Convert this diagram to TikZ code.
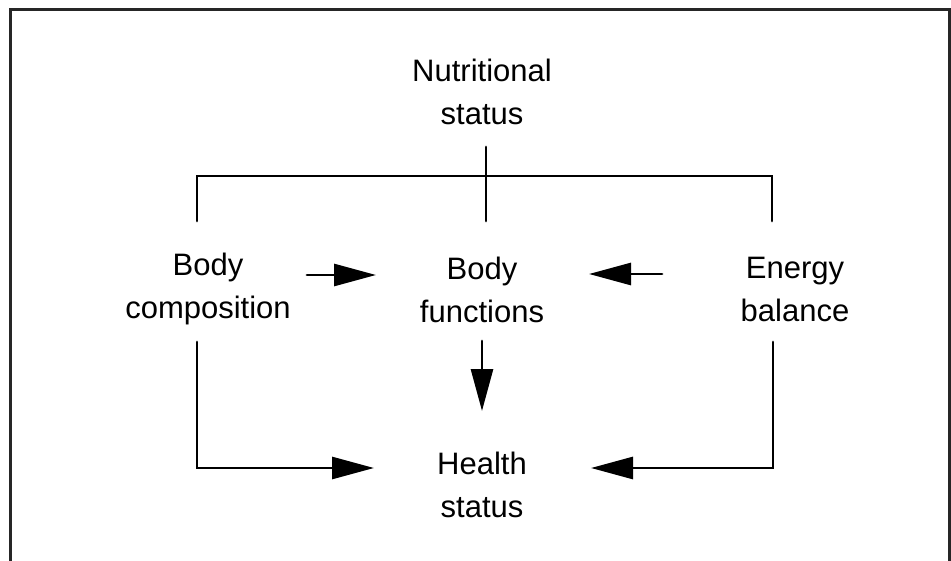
\documentclass[tikz,border=0pt]{standalone}
\usepackage{fontspec}
\setmainfont{Liberation Sans}
\usetikzlibrary{arrows.meta}
\begin{document}
\begin{tikzpicture}[x=1pt,y=-1pt,
  lbl/.style={align=center,inner sep=0pt,font=\fontsize{31}{43}\selectfont},
  ln/.style={line width=2.8pt,line cap=round,line join=miter},
  arr/.style={ln,-{Triangle[length=42pt,width=22pt]}},
  frame/.style={line width=3pt,draw=black!85}]
\useasboundingbox (0,0) rectangle (951,560);
\draw[frame] (10,562) -- (10,9) -- (949,9) -- (949,562);
% texts
\node[lbl] (ns) at (482,92) {Nutritional\\status};
\node[lbl] (bc) at (208,289) {Body\\composition};
\node[lbl] (bf) at (482,290) {Body\\functions};
\node[lbl] (eb) at (795,289) {Energy\\balance};
\node[lbl] (hs) at (482,485) {Health\\status};
% bracket coordinates
\coordinate (nsb) at (486,147);
\coordinate (brc) at (486,176);
\coordinate (brl) at (197,176);
\coordinate (brr) at (772,176);
\coordinate (bct) at (197,221);
\coordinate (bft) at (486,221);
\coordinate (ebt) at (772,221);
\draw[ln] (nsb) -- (brc) -- (bft);
\draw[ln] (bct) -- (brl) -- (brr) -- (ebt);
% horizontal arrows
\coordinate (bcr) at (307,275);
\coordinate (bfl) at (376,275);
\coordinate (ebl) at (662,274);
\coordinate (bfr) at (589,274);
\draw[arr] (bcr) -- (bfl);
\draw[arr] (ebl) -- (bfr);
% down arrow
\coordinate (bfb) at (482,341);
\coordinate (hst) at (482,411);
\draw[arr] (bfb) -- (hst);
% L arrows
\coordinate (bcb) at (197,342);
\coordinate (hsl) at (374,468);
\coordinate (ebb) at (773,342);
\coordinate (hsr) at (591,468);
\draw[arr] (bcb) |- (hsl);
\draw[arr] (ebb) |- (hsr);
\end{tikzpicture}
\end{document}
